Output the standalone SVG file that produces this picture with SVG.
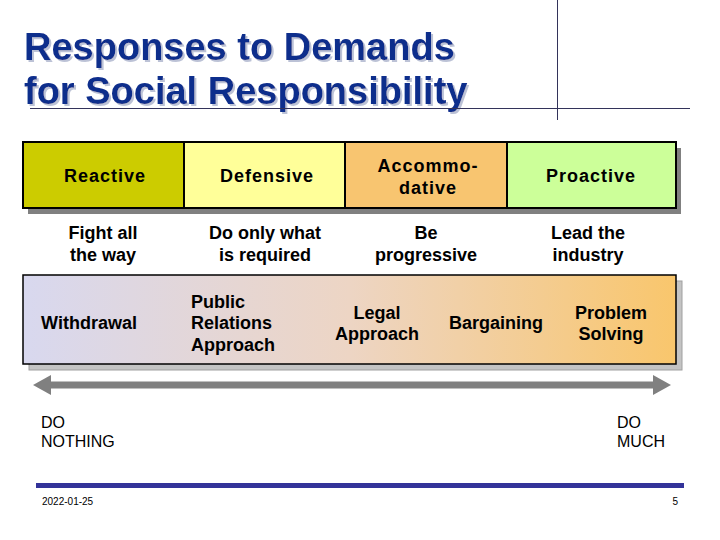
<svg xmlns="http://www.w3.org/2000/svg" width="720" height="540" viewBox="0 0 720 540">
  <defs>
    <linearGradient id="grad" x1="0" y1="0" x2="1" y2="0">
      <stop offset="0" stop-color="#d8d8ef"/>
      <stop offset="0.5" stop-color="#edd5c4"/>
      <stop offset="1" stop-color="#f9c66c"/>
    </linearGradient>
    <filter id="tshadow" x="-5%" y="-20%" width="110%" height="140%">
      <feFlood flood-color="#bcc2d6" result="c"/>
      <feComposite in="c" in2="SourceAlpha" operator="in" result="s"/>
      <feOffset in="s" dx="2" dy="2" result="o"/>
      <feMerge>
        <feMergeNode in="o"/>
        <feMergeNode in="SourceGraphic"/>
      </feMerge>
    </filter>
    <marker id="head" markerUnits="userSpaceOnUse" markerWidth="18" markerHeight="20" refX="0" refY="10" orient="auto-start-reverse">
      <path d="M0,0 L18,10 L0,20 z" fill="#808080"/>
    </marker>
    <style>
      text { font-family: "Liberation Sans", Arial, sans-serif; fill: #000; }
      .title { font-size: 38px; font-weight: bold; fill: #0f2d8c; }
      .hdr { font-size: 18px; font-weight: bold; text-anchor: middle; letter-spacing: 1px; }
      .sub { font-size: 18px; font-weight: bold; text-anchor: middle; }
      .lbl { font-size: 18px; font-weight: bold; }
      .end { font-size: 16px; }
      .foot { font-size: 10px; }
      .box { stroke: #000; stroke-width: 2; }
      .rule { stroke: #33335a; stroke-width: 1; }
    </style>
  </defs>
  <rect width="720" height="540" fill="#fff"/>

  <g id="title">
    <g filter="url(#tshadow)">
      <text class="title" x="24" y="60">Responses to Demands</text>
      <text class="title" x="24" y="104">for Social Responsibility</text>
    </g>
    <line class="rule" x1="30" y1="108.5" x2="690" y2="108.5"/>
    <line class="rule" x1="557.5" y1="0" x2="557.5" y2="120"/>
  </g>

  <rect x="28" y="148" width="653" height="66" fill="#808080"/>

  <g id="reactive">
    <rect class="box" x="23" y="142" width="161" height="66" fill="#cccc00"/>
    <text class="hdr" x="105" y="182">Reactive</text>
    <text class="sub" x="103" y="239">Fight all</text>
    <text class="sub" x="103" y="261">the way</text>
  </g>
  <g id="defensive">
    <rect class="box" x="184" y="142" width="161" height="66" fill="#ffff99"/>
    <text class="hdr" x="267" y="182">Defensive</text>
    <text class="sub" x="265" y="239">Do only what</text>
    <text class="sub" x="265" y="261">is required</text>
  </g>
  <g id="accommodative">
    <rect class="box" x="345" y="142" width="162" height="66" fill="#f8c570"/>
    <text class="hdr" x="428" y="172">Accommo-</text>
    <text class="hdr" x="428" y="194">dative</text>
    <text class="sub" x="426" y="239">Be</text>
    <text class="sub" x="426" y="261">progressive</text>
  </g>
  <g id="proactive">
    <rect class="box" x="507" y="142" width="169" height="66" fill="#ccff99"/>
    <text class="hdr" x="591" y="182">Proactive</text>
    <text class="sub" x="588" y="239">Lead the</text>
    <text class="sub" x="588" y="261">industry</text>
  </g>

  <g id="approaches">
    <rect x="29" y="281" width="653" height="89" fill="#c4c4c4" stroke="#a0a0a0" stroke-width="1"/>
    <rect x="23" y="275" width="653" height="89" fill="url(#grad)" stroke="#000" stroke-width="1.5"/>
    <text class="sub" x="89" y="329">Withdrawal</text>
    <text class="lbl" x="191" y="308">Public</text>
    <text class="lbl" x="191" y="329">Relations</text>
    <text class="lbl" x="191" y="351">Approach</text>
    <text class="sub" x="377" y="319">Legal</text>
    <text class="sub" x="377" y="340">Approach</text>
    <text class="sub" x="496" y="329">Bargaining</text>
    <text class="sub" x="611" y="319">Problem</text>
    <text class="sub" x="611" y="340">Solving</text>
  </g>

  <g id="connectors">
    <line x1="51" y1="385" x2="653" y2="385" stroke="#808080" stroke-width="7" marker-start="url(#head)" marker-end="url(#head)"/>
  </g>

  <g id="do-nothing">
    <text class="end" x="41" y="428">DO</text>
    <text class="end" x="41" y="447">NOTHING</text>
  </g>
  <g id="do-much">
    <text class="end" x="617" y="428">DO</text>
    <text class="end" x="617" y="447">MUCH</text>
  </g>

  <g id="footer">
    <rect x="36" y="483" width="648" height="5" fill="#333399"/>
    <text class="foot" x="42" y="505">2022-01-25</text>
    <text class="foot" x="678" y="505" text-anchor="end">5</text>
  </g>
</svg>
